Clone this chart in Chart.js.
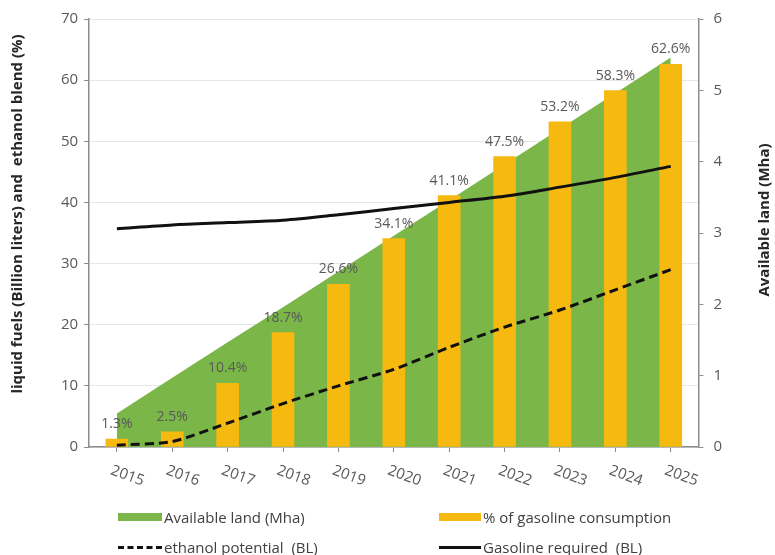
<!DOCTYPE html>
<html lang="en">
<head>
<meta charset="UTF-8">
<title>Ethanol blend chart</title>
<script src="https://cdn.jsdelivr.net/npm/chart.js"></script>
<style>
    body { margin: 0; background: #fff; }
    #wrap { position: relative; width: 775px; height: 555px; }
    .leg { position: absolute; font: 15px "Open Sans", sans-serif; color: #404040; line-height: 18px; white-space: pre; }
    .sw { position: absolute; }
</style>
</head>
<body>
<div id="wrap">
    <canvas id="grafico" width="775" height="555"></canvas>
    <div id="legenda"></div>
</div>
<script>
    const anos = ['2015', '2016', '2017', '2018', '2019', '2020', '2021', '2022', '2023', '2024', '2025'];
    const terraDisponivel = [0.47, 0.97, 1.47, 1.96, 2.46, 2.96, 3.46, 3.96, 4.46, 4.96, 5.46]; // Mha
    const percGasolina = [1.3, 2.5, 10.4, 18.7, 26.6, 34.1, 41.1, 47.5, 53.2, 58.3, 62.6];      // %
    const potencialEtanol = [0.3, 0.9, 3.9, 7.1, 10.0, 12.7, 16.3, 19.6, 22.4, 25.7, 29.0];    // BL
    const gasolinaNecessaria = [35.7, 36.3, 36.7, 37.1, 38.0, 39.0, 40.0, 41.0, 42.5, 44.1, 45.9]; // BL
    const ticksEsq = [0, 10, 20, 30, 40, 50, 60, 70];
    const ticksDir = [0, 1, 2, 3, 4, 5, 6];
    const tituloEsq = 'liquid fuels (Billion liters) and  ethanol blend (%)';
    const tituloDir = 'Available land (Mha)';

    const cinza = '#8c8c8c';
    const texto = '#595959';

    // rotulos de % em cima das barras
    const rotulosBarras = {
        id: 'rotulosBarras',
        afterDatasetsDraw(chart) {
            const ctx = chart.ctx;
            const meta = chart.getDatasetMeta(1);
            ctx.save();
            ctx.font = '14px "Open Sans", sans-serif';
            ctx.fillStyle = texto;
            ctx.textAlign = 'center';
            ctx.textBaseline = 'alphabetic';
            meta.data.forEach((bar, i) => {
                ctx.fillText(percGasolina[i] + '%', bar.x, bar.y - 11);
            });
            ctx.restore();
        }
    };

    // anos inclinados para baixo (sentido horario) + titulos dos eixos lidos de baixo pra cima
    const textosExtras = {
        id: 'textosExtras',
        afterDraw(chart) {
            const ctx = chart.ctx;
            const x = chart.scales.x;
            ctx.save();
            ctx.font = '15px "Open Sans", sans-serif';
            ctx.fillStyle = texto;
            ctx.textAlign = 'left';
            ctx.textBaseline = 'top';
            anos.forEach((ano, i) => {
                ctx.save();
                ctx.translate(x.getPixelForTick(i) - 3, x.bottom + 11);
                ctx.rotate(20 * Math.PI / 180);
                ctx.fillText(ano, 0, 0);
                ctx.restore();
            });

            ctx.font = 'bold 15px "Open Sans", sans-serif';
            ctx.fillStyle = '#262626';
            ctx.textAlign = 'center';
            ctx.textBaseline = 'middle';
            [[tituloEsq, 18, 214], [tituloDir, 765, 220]].forEach(([t, tx, ty]) => {
                ctx.save();
                ctx.translate(tx, ty);
                ctx.rotate(-Math.PI / 2);
                ctx.fillText(t, 0, 0);
                ctx.restore();
            });
            ctx.restore();
        }
    };

    const grafico = new Chart(document.getElementById('grafico'), {
        data: {
            labels: anos,
            datasets: [{
                type: 'line',
                label: 'Available land (Mha)',
                data: terraDisponivel,
                yAxisID: 'y1',
                borderWidth: 0,
                borderColor: '#7ab648',
                backgroundColor: '#7ab648',
                fill: 'origin',
                pointRadius: 0,
                tension: 0,
                order: 4
            }, {
                type: 'bar',
                label: '% of gasoline consumption',
                data: percGasolina,
                yAxisID: 'y',
                backgroundColor: '#f6b910',
                barThickness: 22,
                order: 3
            }, {
                type: 'line',
                label: 'ethanol potential  (BL)',
                data: potencialEtanol,
                yAxisID: 'y',
                borderColor: '#111',
                borderWidth: 3,
                borderDash: [9, 5],
                pointRadius: 0,
                tension: 0.25,
                fill: false,
                order: 2
            }, {
                type: 'line',
                label: 'Gasoline required  (BL)',
                data: gasolinaNecessaria,
                yAxisID: 'y',
                borderColor: '#111',
                borderWidth: 3,
                pointRadius: 0,
                tension: 0.3,
                fill: false,
                order: 1
            }]
        },
        options: {
            responsive: false,
            animation: false,
            layout: { padding: { top: 8, bottom: 103, left: 55, right: 43 } },
            plugins: {
                legend: { display: false },
                tooltip: { enabled: false }
            },
            scales: {
                x: {
                    offset: true,
                    grid: { display: true, drawOnChartArea: false, offset: false, tickLength: 5, tickColor: cinza },
                    border: { color: cinza, width: 1.5 },
                    ticks: { display: false }
                },
                y: {
                    position: 'left',
                    min: 0,
                    max: 70,
                    afterBuildTicks: (s) => { s.ticks = ticksEsq.map(v => ({ value: v })); },
                    grid: { color: '#e6e6e6', tickColor: cinza, tickLength: 5 },
                    border: { color: cinza, width: 1.5 },
                    ticks: { color: texto, padding: 6, font: { family: 'Open Sans', size: 15 } }
                },
                y1: {
                    position: 'right',
                    min: 0,
                    max: 6,
                    afterBuildTicks: (s) => { s.ticks = ticksDir.map(v => ({ value: v })); },
                    grid: { drawOnChartArea: false, tickColor: cinza, tickLength: 5 },
                    border: { color: cinza, width: 1.5 },
                    ticks: { color: texto, padding: 10, font: { family: 'Open Sans', size: 15 } }
                }
            }
        },
        plugins: [rotulosBarras, textosExtras]
    });

    // legenda em grade 2x2, como no original
    const posLegenda = [
        { ds: 0, x: 118, y: 517, w: 44 },
        { ds: 1, x: 439, y: 517, w: 42 },
        { ds: 2, x: 118, y: 547, w: 44 },
        { ds: 3, x: 439, y: 547, w: 42 }
    ];
    const legenda = document.getElementById('legenda');
    posLegenda.forEach(p => {
        const ds = grafico.data.datasets[p.ds];
        const sw = document.createElement('div');
        sw.className = 'sw';
        sw.style.left = p.x + 'px';
        sw.style.width = p.w + 'px';
        if (ds.type === 'line' && !ds.fill) {
            sw.style.top = (p.y - 1) + 'px';
            sw.style.height = '0';
            sw.style.borderTop = '3px ' + (ds.borderDash ? 'dashed' : 'solid') + ' #111';
        } else {
            sw.style.top = (p.y - 4) + 'px';
            sw.style.height = '8px';
            sw.style.background = ds.backgroundColor;
        }
        legenda.appendChild(sw);
        const t = document.createElement('div');
        t.className = 'leg';
        t.style.left = (p.x + p.w + 2) + 'px';
        t.style.top = (p.y - 9) + 'px';
        t.textContent = ds.label;
        legenda.appendChild(t);
    });
</script>
</body>
</html>
